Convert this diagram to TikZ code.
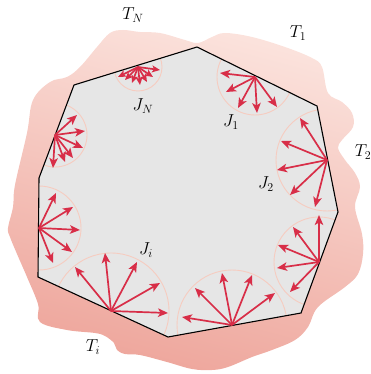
\documentclass[tikz,border=0pt]{standalone}
\usetikzlibrary{arrows.meta}
\definecolor{rayred}{HTML}{D82E48}
\definecolor{ringpink}{HTML}{F6CCC0}
\definecolor{blobtop}{HTML}{FBE2DC}
\definecolor{blobbot}{HTML}{EEA69C}
\definecolor{plategray}{HTML}{E6E6E6}
\tikzset{
  ray/.style={draw=rayred, line width=1.7pt, -{Stealth[length=10pt,width=8.5pt,inset=2.5pt]}},
  ring/.style={draw=ringpink, line width=0.9pt},
  lbl/.style={inner sep=0pt, font=\fontsize{17.28}{20}\selectfont},
}
\begin{document}
\begin{tikzpicture}[x=1pt,y=-1pt]
\useasboundingbox (0,0) rectangle (370,374);
% background blob
\path[top color=blobtop, bottom color=blobbot, shading angle=-15]
  plot[smooth cycle, tension=0.6] coordinates {
  (15,185) (27,133) (33,100) (50,82) (67,77) (80,67) (97,47) (110,33) (123,30)
  (140,32) (160,33) (185,40) (198,43) (212,37) (225,33) (252,37) (285,47)
  (312,58) (322,67) (328,93) (342,102) (352,113) (353,127) (342,140) (338,148)
  (345,160) (355,173) (360,187) (355,207) (362,234) (363,254) (358,274)
  (345,287) (318,307) (308,327) (295,340) (272,350) (252,357) (228,367)
  (212,370) (192,369) (167,362) (140,355) (125,354) (117,350) (114,343)
  (105,336) (95,333) (67,330) (40,322) (38,304) (27,277) (17,254) (10,237)
  (8,228) (13,207)};
% plate
\coordinate (p1) at (74,85);
\coordinate (p2) at (197,47);
\coordinate (p3) at (317,106);
\coordinate (p4) at (338,212);
\coordinate (p5) at (301,313);
\coordinate (p6) at (168,337);
\coordinate (p7) at (38,277);
\coordinate (p8) at (39,178);
\fill[plategray] (p1)--(p2)--(p3)--(p4)--(p5)--(p6)--(p7)--(p8)--cycle;
% emitter origins
\coordinate (oN) at (138,67);
\coordinate (oA) at (55,135);
\coordinate (o1) at (255,77);
\coordinate (o2) at (327,160);
\coordinate (oB) at (319,262);
\coordinate (oC) at (232,325);
\coordinate (oi) at (111,311);
\coordinate (oD) at (39,228);
% rings
\begin{scope}
\clip (p1)--(p2)--(p3)--(p4)--(p5)--(p6)--(p7)--(p8)--cycle;
\draw[ring] (oN) circle[radius=24];
\draw[ring] (oA) circle[radius=32];
\draw[ring] (o1) circle[radius=38];
\draw[ring] (o2) circle[radius=51];
\draw[ring] (oB) circle[radius=45];
\draw[ring] (oC) circle[radius=55];
\draw[ring] (oi) circle[radius=58];
\draw[ring] (oD) circle[radius=42];
\end{scope}
\draw[line width=1.1pt, line join=miter] (p1)--(p2)--(p3)--(p4)--(p5)--(p6)--(p7)--(p8)--cycle;
% rays
\foreach \d in {(-20,10),(-13,13),(-6,16),(2,18),(9,15),(15,10),(22,3)}
  \draw[ray, -{Stealth[length=8pt,width=7pt,inset=2pt]}] (oN) -- ++\d;
\foreach \d in {(22,-20),(30,-4),(28,13),(18,23),(10,27),(-2,33)}
  \draw[ray] (oA) -- ++\d;
\foreach \d in {(-35,-4),(-29,15),(-17,31),(2,36),(22,30)}
  \draw[ray] (o1) -- ++\d;
\foreach \d in {(-27,-42),(-46,-19),(-50,10),(-37,35),(-12,47)}
  \draw[ray] (o2) -- ++\d;
\foreach \d in {(0,-47),(-26,-35),(-41,-17),(-42,6),(-29,30)}
  \draw[ray] (oB) -- ++\d;
\foreach \d in {(-50,-8),(-37,-37),(-10,-52),(20,-50),(43,-32)}
  \draw[ray] (oC) -- ++\d;
\foreach \d in {(-36,-44),(-6,-58),(26,-49),(49,-28),(57,2)}
  \draw[ray] (oi) -- ++\d;
\foreach \d in {(17,-35),(34,-21),(41,2),(33,24),(14,35)}
  \draw[ray] (oD) -- ++\d;
% labels
\node[lbl] (TN) at (133,15) {$T_N$};
\node[lbl] (T1) at (298,33) {$T_1$};
\node[lbl] (T2) at (363,152) {$T_2$};
\node[lbl] (Ti) at (93,347) {$T_i$};
\node[lbl] (JN) at (143,106) {$J_N$};
\node[lbl] (J1) at (231,122) {$J_1$};
\node[lbl] (J2) at (266,184) {$J_2$};
\node[lbl] (Ji) at (146,250) {$J_i$};
\end{tikzpicture}
\end{document}
